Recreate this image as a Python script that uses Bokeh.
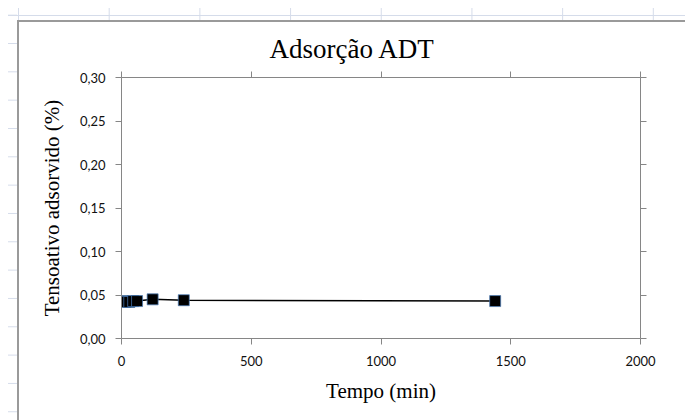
from bokeh.plotting import figure
from bokeh.models import Range1d, FixedTicker, LinearAxis, CustomJSTickFormatter
from bokeh.embed import file_html
from bokeh.resources import INLINE

# ---- data ----
tempo_min = [5, 15, 30, 45, 60, 120, 240, 1440]
tensoativo_pct = [0.043, 0.042, 0.042, 0.043, 0.043, 0.045, 0.044, 0.043]

x_ticks = [0, 500, 1000, 1500, 2000]
y_ticks = [0.0, 0.05, 0.10, 0.15, 0.20, 0.25, 0.30]
y_tick_labels = ["0,00", "0,05", "0,10", "0,15", "0,20", "0,25", "0,30"]

title_text = "Adsorção ADT"
x_label = "Tempo (min)"
y_label = "Tensoativo adsorvido (%)"

AXIS_COLOR = "#868686"
SERIF = "Liberation Serif"
SANS = "Lato"

p = figure(width=685, height=420, output_backend="svg", toolbar_location=None,
           x_range=Range1d(0, 2000), y_range=Range1d(0, 0.30),
           x_axis_type=None, y_axis_type=None,
           min_border_left=121, min_border_right=45,
           min_border_top=77, min_border_bottom=82)
p.outline_line_color = None
p.background_fill_color = "white"
p.border_fill_color = None
p.xgrid.visible = False
p.ygrid.visible = False

empty = CustomJSTickFormatter(code="return ''")

def style_axis(ax):
    ax.axis_line_color = AXIS_COLOR
    ax.axis_line_width = 1
    ax.major_tick_line_color = AXIS_COLOR
    ax.major_tick_in = 0
    ax.major_tick_out = 6
    ax.minor_tick_line_color = None
    ax.major_label_text_font = SANS
    ax.major_label_text_font_size = "13px"
    ax.major_label_text_color = "#111111"
    ax.axis_label_text_font = SERIF
    ax.axis_label_text_font_style = "normal"
    ax.axis_label_text_font_size = "21px"
    ax.axis_label_text_color = "black"

xb = LinearAxis(ticker=FixedTicker(ticks=x_ticks), axis_label=x_label)
style_axis(xb)
xb.major_label_standoff = 11
xb.axis_label_standoff = 10
p.add_layout(xb, "below")

yl = LinearAxis(ticker=FixedTicker(ticks=y_ticks), axis_label=y_label)
style_axis(yl)
yl.major_label_overrides = {t: s for t, s in zip(y_ticks, y_tick_labels)}
yl.major_label_standoff = 10
yl.axis_label_standoff = 13
p.add_layout(yl, "left")

xt = LinearAxis(ticker=FixedTicker(ticks=x_ticks), formatter=empty)
style_axis(xt)
xt.major_label_standoff = 0
p.add_layout(xt, "above")

yr = LinearAxis(ticker=FixedTicker(ticks=y_ticks), formatter=empty)
style_axis(yr)
yr.major_label_standoff = 0
p.add_layout(yr, "right")

p.title.text = title_text
p.title.text_font = SERIF
p.title.text_font_size = "27px"
p.title.text_font_style = "normal"
p.title.text_color = "black"
p.title.align = "left"
p.title.offset = 148
p.title.standoff = 16

# series: connecting line + markers
p.line(tempo_min, tensoativo_pct, line_color="black", line_width=1.5)
p.scatter(tempo_min, tensoativo_pct, marker="square", size=11,
          fill_color="black", line_color="#4a7ebb", line_width=1, line_alpha=0.7)

# ---- spreadsheet look behind the chart (CSS background of the host) ----
GRID = "#d5dcea"
BORDER = "#9a9a9a"
layers = [
    (f"linear-gradient({BORDER},{BORDER})", "17px 20px", "2px 100%", "no-repeat"),
    (f"linear-gradient({BORDER},{BORDER})", "17px 20px", "100% 2px", "no-repeat"),
    ("linear-gradient(white,white)", "17px 20px", "100% 100%", "no-repeat"),
    (f"linear-gradient({GRID},{GRID})", "8px 15px", "100% 1px", "no-repeat"),
    (f"linear-gradient(to right,{GRID} 0px,{GRID} 1px,transparent 1px)",
     "18px 8px", "90.7px 12px", "repeat-x"),
    (f"linear-gradient(to bottom,{GRID} 0px,{GRID} 1px,transparent 1px)",
     "8px 43px", "9px 28.33px", "repeat-y"),
]
p.styles = {
    "background-color": "white",
    "background-image": ", ".join(l[0] for l in layers),
    "background-position": ", ".join(l[1] for l in layers),
    "background-size": ", ".join(l[2] for l in layers),
    "background-repeat": ", ".join(l[3] for l in layers),
}

open("out.html", "w").write(file_html(p, INLINE))
